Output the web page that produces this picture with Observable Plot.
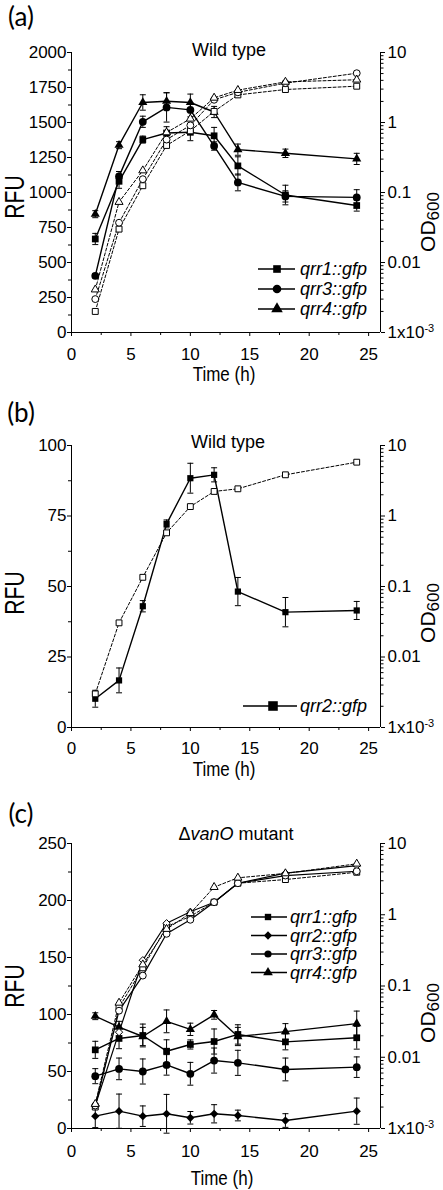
<!DOCTYPE html>
<html><head><meta charset="utf-8">
<script src="https://cdn.jsdelivr.net/npm/d3@7"></script>
<script src="https://cdn.jsdelivr.net/npm/@observablehq/plot@0.6"></script>
<style>
body{margin:0;background:#fff;}
#root{position:relative;width:443px;height:1190px;overflow:hidden;font-family:"Liberation Sans",Arial,Helvetica,sans-serif;color:#000;}
.panel{position:absolute;left:0;width:443px;}
.panel svg{display:block;}
.lbl{position:absolute;white-space:nowrap;line-height:1;}
.plab{font-family:Lato,"Open Sans",sans-serif;font-size:26px;}
</style></head><body><div id="root"></div>
<script>
// ---------- data ----------
const time = [2, 4, 6, 8, 10, 12, 14, 18, 24];
const odTickValues = [0.001, 0.01, 0.1, 1, 10];
const odTickLabels = ["1x10-3", "0.01", "0.1", "1", "10"];

// (a) wild type
const a_qrr1 = [668, 1080, 1378, 1425, 1430, 1405, 1190, 982, 907];
const a_qrr1_err = [40, 50, 25, 45, 60, 60, 65, 70, 40];
const a_qrr3 = [405, 1115, 1505, 1608, 1590, 1332, 1072, 972, 965];
const a_qrr3_err = [15, 35, 40, 105, 50, 30, 60, 40, 55];
const a_qrr4 = [845, 1338, 1643, 1652, 1643, 1575, 1306, 1280, 1240];
const a_qrr4_err = [25, 25, 55, 60, 60, 40, 40, 30, 40];
const a_od_qrr1 = [0.0020, 0.030, 0.125, 0.47, 0.76, 1.44, 2.48, 2.96, 3.3];
const a_od_qrr3 = [0.0030, 0.037, 0.155, 0.57, 0.91, 2.11, 2.7, 3.65, 5.06];
const a_od_qrr4 = [0.0041, 0.073, 0.206, 0.72, 1.13, 2.25, 2.9, 3.8, 4.08];

// (b) wild type qrr2
const b_qrr2 = [10.2, 16.7, 43, 72.2, 88.4, 89.6, 48.2, 40.9, 41.5];
const b_qrr2_err = [3, 4.4, 2, 1.4, 5.3, 2.5, 5, 5.2, 3.2];
const b_od_qrr2 = [0.0030, 0.0305, 0.135, 0.577, 1.36, 2.23, 2.43, 3.84, 5.8];

// (c) vanO mutant
const c_qrr1 = [69, 79, 81.6, 67.8, 73.7, 76.3, 82.5, 76, 79.6];
const c_qrr1_err = [7.5, 9, 10, 10, 4, 11, 8.5, 7, 10];
const c_qrr2 = [10.8, 15.2, 10.8, 12.9, 9.4, 12.9, 11.4, 7, 15.2];
const c_qrr2_err = [10, 15, 9, 17, 5.5, 8, 4.7, 6, 11.5];
const c_qrr3 = [45.9, 52.3, 50, 55.8, 48, 59.6, 57.6, 51.8, 53.8];
const c_qrr3_err = [6.6, 9.5, 11, 9, 10, 11, 11, 10, 9];
const c_qrr4 = [98.5, 89, 80.7, 94, 87, 99.7, 80.7, 85, 92];
const c_qrr4_err = [3, 5, 8, 10, 5.4, 3.8, 8, 7, 11];
const c_od_qrr1 = [0.0020, 0.050, 0.18, 0.68, 0.95, 1.5, 2.77, 3.12, 3.95];
const c_od_qrr2 = [0.0021, 0.0225, 0.23, 0.76, 1.1, 1.5, 2.77, 3.83, 4.9];
const c_od_qrr3 = [0.0021, 0.045, 0.14, 0.54, 0.85, 1.5, 2.77, 3.55, 4.08];
const c_od_qrr4 = [0.0022, 0.058, 0.2, 0.63, 1.05, 2.44, 3.3, 3.8, 5.19];

// ---------- symbols ----------
const capSymbol = {draw(ctx, size) {const r = Math.sqrt(size / Math.PI); ctx.moveTo(-r, 0); ctx.lineTo(r, 0);}};
const diamondSymbol = {draw(ctx, size) {const r = Math.sqrt(size / Math.PI) * 1.15; ctx.moveTo(0, -r); ctx.lineTo(r, 0); ctx.lineTo(0, r); ctx.lineTo(-r, 0); ctx.closePath();}};
const symR = {square: 3.8, circle: 3.9, triangle: 3.4, diamond: 3.6};
const symOf = s => s === "diamond" ? diamondSymbol : s;
const d3Sym = s => s === "diamond" ? diamondSymbol : s === "square" ? d3.symbolSquare : s === "circle" ? d3.symbolCircle : d3.symbolTriangle;

const root = document.getElementById("root");

function addLabel(panel, html, x, y, cls, css, transform) {
  const el = document.createElement("div");
  el.className = "lbl " + (cls || "");
  el.innerHTML = html;
  el.style.left = x + "px";
  el.style.top = y + "px";
  Object.assign(el.style, css || {});
  el.style.transform = "translate(-50%,-50%) " + (transform || "");
  panel.appendChild(el);
  return el;
}

function buildPanel(cfg) {
  const {top, height, marginTop, marginBottom, ymax, ystep, rfu, od, xPad} = cfg;
  const odY = v => (Math.log10(v) + 3) / 4 * ymax;
  const marks = [];
  // axis lines
  marks.push(Plot.ruleX([0], {stroke: "#000", strokeWidth: 1}));
  marks.push(Plot.ruleX([26], {stroke: "#000", strokeWidth: 1}));
  marks.push(Plot.ruleY([0], {stroke: "#000", strokeWidth: 1}));
  // left axis
  marks.push(Plot.axisY({anchor: "left", ticks: d3.range(0, ymax + 1e-9, ystep), tickSize: 4, tickPadding: 1, label: null, tickFormat: d => String(d)}));
  marks.push(Plot.axisY({anchor: "left", ticks: d3.range(ystep / 2, ymax, ystep), tickSize: 3, label: null, tickFormat: () => ""}));
  // bottom axis
  marks.push(Plot.axisX({ticks: d3.range(0, 26, 5), tickSize: 4, tickPadding: xPad, label: null, tickFormat: d => String(d)}));
  marks.push(Plot.axisX({ticks: d3.range(2.5, 25, 5), tickSize: 3, label: null, tickFormat: () => ""}));
  // right log axis
  const odMajor = odTickValues.map(odY);
  marks.push(Plot.axisY({anchor: "right", ticks: odMajor, tickSize: 4, tickPadding: 3, label: null,
    tickFormat: d => odTickLabels[odMajor.findIndex(v => Math.abs(v - d) < 1e-6)]}));
  const odMinor = [];
  for (const dec of [0.001, 0.01, 0.1, 1]) for (let k = 2; k <= 9; k++) odMinor.push(odY(k * dec));
  marks.push(Plot.axisY({anchor: "right", ticks: odMinor, tickSize: 2.5, label: null, tickFormat: () => ""}));

  // OD lines
  for (const s of od) {
    const d = time.map((t, i) => ({t, v: odY(s.values[i])}));
    marks.push(Plot.line(d, {x: "t", y: "v", stroke: "#000", strokeWidth: s.dashed ? 1 : 1.2, strokeDasharray: s.dashed ? "3,2" : undefined}));
  }
  // RFU error bars, lines, markers
  for (const s of rfu) {
    const d = time.map((t, i) => ({t, v: s.values[i], e: s.err[i]}));
    marks.push(Plot.ruleX(d, {x: "t", y1: r => r.v - r.e, y2: r => r.v + r.e, stroke: "#000", strokeWidth: 1}));
    marks.push(Plot.dot(d, {x: "t", y: r => r.v - r.e, symbol: capSymbol, r: 3, fill: "none", stroke: "#000", strokeWidth: 1}));
    marks.push(Plot.dot(d, {x: "t", y: r => r.v + r.e, symbol: capSymbol, r: 3, fill: "none", stroke: "#000", strokeWidth: 1}));
    marks.push(Plot.line(d, {x: "t", y: "v", stroke: "#000", strokeWidth: 1.4}));
  }
  for (const s of rfu) {
    const d = time.map((t, i) => ({t, v: s.values[i]}));
    marks.push(Plot.dot(d, {x: "t", y: "v", symbol: symOf(s.symbol), r: (s.r || symR[s.symbol]), fill: "#000", stroke: "none"}));
  }
  for (const s of od) {
    const d = time.map((t, i) => ({t, v: odY(s.values[i])}));
    marks.push(Plot.dot(d, {x: "t", y: "v", symbol: symOf(s.symbol), r: (s.r || symR[s.symbol] * 0.88), fill: "#fff", stroke: "#000", strokeWidth: 1}));
  }

  const svg = Plot.plot({
    width: 443, height, marginLeft: 71, marginRight: 63, marginTop, marginBottom,
    x: {domain: [0, 26]}, y: {domain: [0, ymax]},
    style: {fontFamily: '"Liberation Sans", Arial, sans-serif', fontSize: "17px", background: "transparent", overflow: "visible", color: "#000"},
    marks
  });
  // superscript for 1x10-3
  for (const t of svg.querySelectorAll("text")) {
    if (t.textContent === "1x10-3") {
      t.textContent = "";
      const ns = "http://www.w3.org/2000/svg";
      const a = document.createElementNS(ns, "tspan"); a.textContent = "1x10"; t.appendChild(a);
      const b = document.createElementNS(ns, "tspan"); b.textContent = "-3"; b.setAttribute("dy", "-0.5em"); b.setAttribute("font-size", "11px"); t.appendChild(b);
    }
  }
  const panel = document.createElement("div");
  panel.className = "panel";
  panel.style.top = top + "px";
  panel.style.height = height + "px";
  panel.appendChild(svg);
  root.appendChild(panel);

  // legend
  const L = cfg.legend;
  const lg = d3.select(panel).append("svg").attr("width", 443).attr("height", height)
    .style("position", "absolute").style("left", "0px").style("top", "0px").style("overflow", "visible");
  L.entries.forEach((e, i) => {
    const y = L.y0 + i * L.dy;
    lg.append("line").attr("x1", L.x0).attr("x2", L.x1).attr("y1", y).attr("y2", y).attr("stroke", "#000").attr("stroke-width", 1.4);
    lg.append("path").attr("transform", `translate(${L.xm},${y})`).attr("d", d3.symbol(d3Sym(e.symbol), Math.PI * L.r * L.r)()).attr("fill", "#000");
    lg.append("text").attr("x", L.xt).attr("y", y).attr("dy", "0.36em").attr("font-style", "italic")
      .attr("font-size", L.fontSize).attr("font-family", '"Liberation Sans", Arial, sans-serif').text(e.label);
  });

  // texts
  const t = cfg.text;
  addLabel(panel, t.letter, 21, t.letterY, "plab");
  addLabel(panel, t.title, t.titleX, t.titleY, "", {fontSize: "18px"});
  addLabel(panel, "RFU", 15, t.rfuY, "", {fontSize: "27px"}, "rotate(-90deg) scaleX(0.78)");
  addLabel(panel, "Time (h)", t.timeX, t.timeY, "", {fontSize: "20px"}, "scaleX(0.85)");
  const od600 = addLabel(panel, 'OD<span style="font-size:17px;position:relative;top:4px;">600</span>', 427, 0, "", {fontSize: "21px"}, "rotate(-90deg)");
  const w = od600.offsetWidth;
  od600.style.top = (t.odBottom - w / 2) + "px";
}

buildPanel({
  top: 0, height: 390, marginTop: 52, marginBottom: 58, ymax: 2000, ystep: 250, xPad: 11,
  rfu: [
    {values: a_qrr1, err: a_qrr1_err, symbol: "square"},
    {values: a_qrr3, err: a_qrr3_err, symbol: "circle"},
    {values: a_qrr4, err: a_qrr4_err, symbol: "triangle"}
  ],
  od: [
    {values: a_od_qrr1, symbol: "square", dashed: true},
    {values: a_od_qrr3, symbol: "circle", dashed: true},
    {values: a_od_qrr4, symbol: "triangle", dashed: true}
  ],
  legend: {x0: 258, x1: 295, xm: 277, xt: 300, y0: 269, dy: 20, r: 4.3, fontSize: "18px",
    entries: [{symbol: "square", label: "qrr1::gfp"}, {symbol: "circle", label: "qrr3::gfp"}, {symbol: "triangle", label: "qrr4::gfp"}]},
  text: {letter: "(a)", letterY: 16, title: "Wild type", titleX: 229, titleY: 50, rfuY: 197, timeX: 224, timeY: 374, odBottom: 252}
});

buildPanel({
  top: 390, height: 390, marginTop: 55, marginBottom: 53, ymax: 100, ystep: 25, xPad: 10,
  rfu: [{values: b_qrr2, err: b_qrr2_err, symbol: "square", r: 3.5}],
  od: [{values: b_od_qrr2, symbol: "square", dashed: true, r: 3.3}],
  legend: {x0: 243, x1: 297, xm: 273, xt: 300, y0: 316, dy: 20, r: 5.4, fontSize: "18px",
    entries: [{symbol: "square", label: "qrr2::gfp"}]},
  text: {letter: "(b)", letterY: 22, title: "Wild type", titleX: 228, titleY: 52, rfuY: 203, timeX: 224, timeY: 379, odBottom: 253}
});

buildPanel({
  top: 780, height: 410, marginTop: 63, marginBottom: 62, ymax: 250, ystep: 50, xPad: 12,
  rfu: [
    {values: c_qrr1, err: c_qrr1_err, symbol: "square"},
    {values: c_qrr2, err: c_qrr2_err, symbol: "diamond"},
    {values: c_qrr3, err: c_qrr3_err, symbol: "circle"},
    {values: c_qrr4, err: c_qrr4_err, symbol: "triangle"}
  ],
  od: [
    {values: c_od_qrr1, symbol: "square", dashed: true},
    {values: c_od_qrr2, symbol: "diamond", dashed: false},
    {values: c_od_qrr3, symbol: "circle", dashed: false},
    {values: c_od_qrr4, symbol: "triangle", dashed: true}
  ],
  legend: {x0: 251, x1: 287, xm: 268, xt: 290, y0: 137, dy: 18.5, r: 3.6, fontSize: "18px",
    entries: [{symbol: "square", label: "qrr1::gfp"}, {symbol: "diamond", label: "qrr2::gfp"}, {symbol: "circle", label: "qrr3::gfp"}, {symbol: "triangle", label: "qrr4::gfp"}]},
  text: {letter: "(c)", letterY: 33, title: "&Delta;<i>vanO</i> mutant", titleX: 236, titleY: 54, rfuY: 206, timeX: 222, timeY: 398, odBottom: 263}
});
</script>
</body></html>
